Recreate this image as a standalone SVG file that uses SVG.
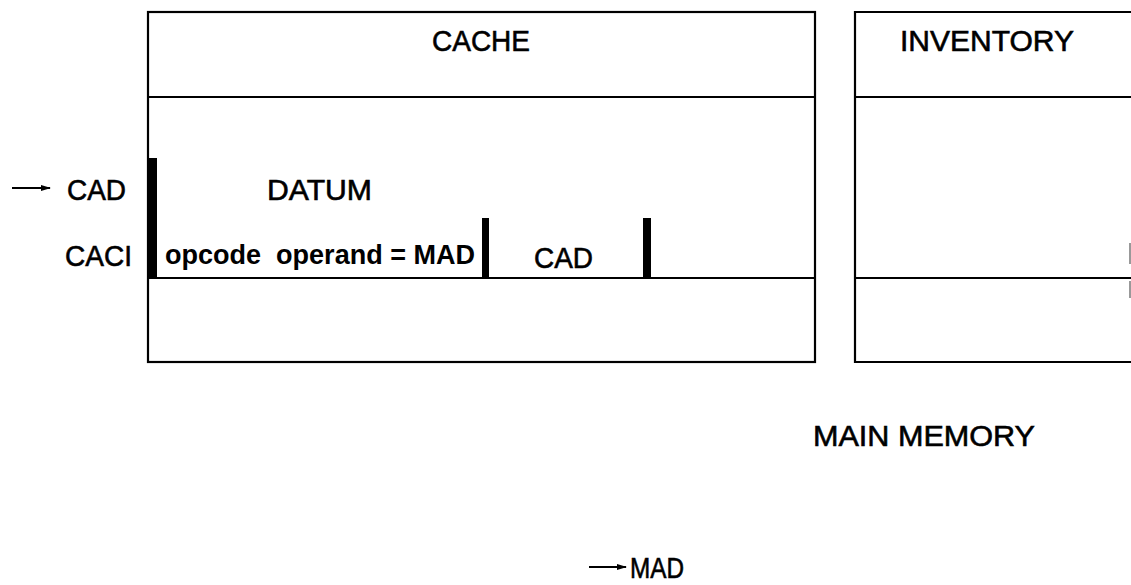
<svg xmlns="http://www.w3.org/2000/svg" width="1131" height="585" viewBox="0 0 1131 585">
  <style>
    .box { fill: none; stroke: #000; stroke-width: 2.2; }
    .rule { stroke: #000; stroke-width: 2.2; }
    .bar { fill: #000; }
    .lbl { font-family: "Liberation Sans", Arial, sans-serif; font-size: 30px; fill: #000; stroke: #000; stroke-width: 0.6; }
    .bold { font-family: "Liberation Sans", Arial, sans-serif; font-size: 28px; font-weight: bold; fill: #000; }
    .arrow { stroke: #000; stroke-width: 2; fill: none; }
  </style>
  <defs>
    <marker id="head" viewBox="0 0 10 6" refX="9" refY="3" markerWidth="10" markerHeight="6" markerUnits="userSpaceOnUse" orient="auto">
      <path d="M0,0 L10,3 L0,6 Z" fill="#000"/>
    </marker>
  </defs>

  <!-- cache frame: header row, entry row, spare row -->
  <g id="cache">
    <rect class="box" x="148" y="12" width="667" height="350"/>
    <line class="rule" x1="148" y1="97" x2="815" y2="97"/>
    <line class="rule" x1="148" y1="278" x2="815" y2="278"/>
    <text class="lbl" x="432" y="51" font-size="31" textLength="98" lengthAdjust="spacingAndGlyphs">CACHE</text>
    <text class="lbl" x="267" y="200" textLength="105" lengthAdjust="spacingAndGlyphs">DATUM</text>
    <rect class="bar" x="148" y="158" width="9" height="120"/>
    <rect class="bar" x="482" y="218" width="7" height="60"/>
    <rect class="bar" x="643" y="218" width="8" height="60"/>
    <text class="bold" x="165" y="264" xml:space="preserve" textLength="310" lengthAdjust="spacingAndGlyphs">opcode  operand = MAD</text>
    <text class="lbl" x="534" y="268" textLength="59" lengthAdjust="spacingAndGlyphs">CAD</text>
  </g>

  <!-- inventory frame, running off the right edge -->
  <g id="inventory">
    <path class="box" d="M1133,12 L855,12 L855,362 L1133,362"/>
    <line class="rule" x1="855" y1="97" x2="1133" y2="97"/>
    <line class="rule" x1="855" y1="278" x2="1133" y2="278"/>
    <text class="lbl" x="900" y="51" font-size="31" textLength="174" lengthAdjust="spacingAndGlyphs">INVENTORY</text>
    <line x1="1130" y1="243" x2="1130" y2="264" stroke="#777" stroke-width="1.5"/>
    <line x1="1130" y1="281" x2="1130" y2="298" stroke="#777" stroke-width="1.5"/>
  </g>

  <g id="main-memory">
    <text class="lbl" x="813" y="446" textLength="222" lengthAdjust="spacingAndGlyphs">MAIN MEMORY</text>
  </g>

  <g id="side-labels">
    <text class="lbl" x="67" y="200" textLength="59" lengthAdjust="spacingAndGlyphs">CAD</text>
    <text class="lbl" x="65" y="266" textLength="67" lengthAdjust="spacingAndGlyphs">CACI</text>
    <text class="lbl" x="630" y="578" textLength="54" lengthAdjust="spacingAndGlyphs">MAD</text>
  </g>

  <g id="connectors">
    <line class="arrow" x1="12" y1="188" x2="50" y2="188" marker-end="url(#head)"/>
    <line class="arrow" x1="589" y1="567" x2="626" y2="567" marker-end="url(#head)"/>
  </g>
</svg>
